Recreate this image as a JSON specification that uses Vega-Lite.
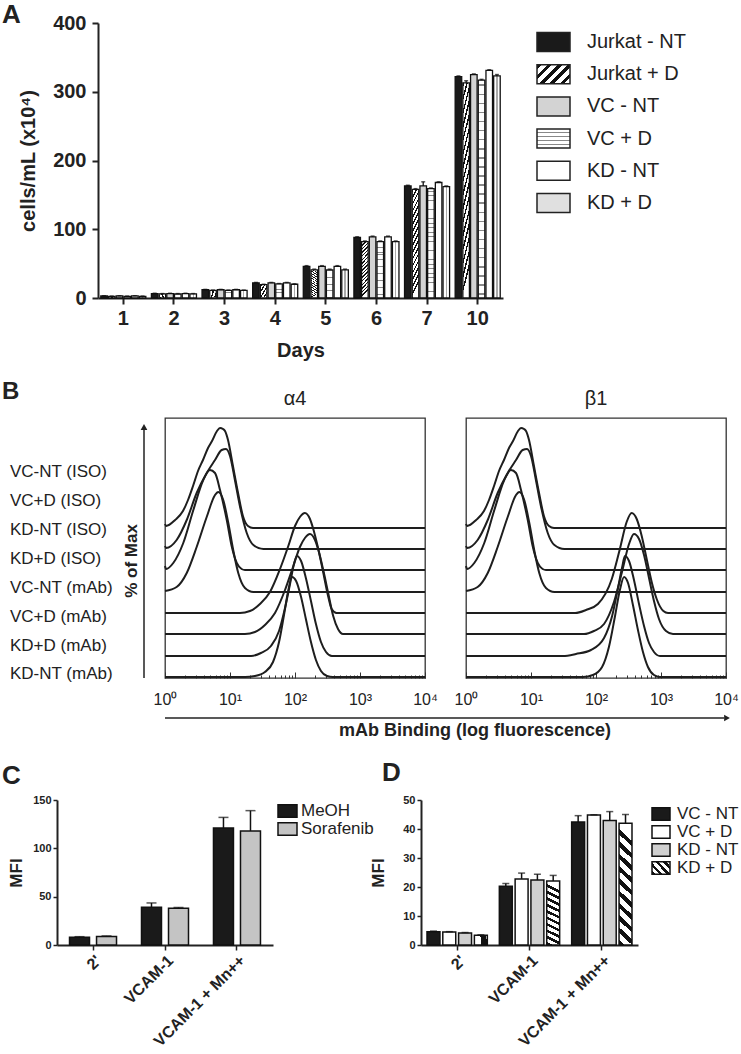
{
"$schema": "https://vega.github.io/schema/vega-lite/v6.json",
"padding": {"left": 2, "top": 2, "right": 0, "bottom": 0},
"background": "white",
"config": {"font": "Liberation Sans", "view": {"stroke": null}, "axis": {"labelColor": "#222", "titleColor": "#222", "domainColor": "#222", "tickColor": "#222", "grid": false}, "title": {"color": "#222"}, "text": {"color": "#222"}},
"datasets": {
"growth": [
{"day":"1","g":"Jurkat - NT","val":3,"hi":3.3},{"day":"1","g":"Jurkat + D","val":2.5,"hi":2.8},{"day":"1","g":"VC - NT","val":3,"hi":3.3},{"day":"1","g":"VC + D","val":2.5,"hi":2.8},{"day":"1","g":"KD - NT","val":3,"hi":3.3},{"day":"1","g":"KD + D","val":2.5,"hi":2.8},
{"day":"2","g":"Jurkat - NT","val":6.5,"hi":6.9},{"day":"2","g":"Jurkat + D","val":6,"hi":6.4},{"day":"2","g":"VC - NT","val":6.5,"hi":6.9},{"day":"2","g":"VC + D","val":6,"hi":6.4},{"day":"2","g":"KD - NT","val":6.5,"hi":6.9},{"day":"2","g":"KD + D","val":6,"hi":6.4},
{"day":"3","g":"Jurkat - NT","val":12,"hi":12.5},{"day":"3","g":"Jurkat + D","val":11,"hi":11.5},{"day":"3","g":"VC - NT","val":12,"hi":12.5},{"day":"3","g":"VC + D","val":11,"hi":11.5},{"day":"3","g":"KD - NT","val":12,"hi":12.5},{"day":"3","g":"KD + D","val":11,"hi":11.5},
{"day":"4","g":"Jurkat - NT","val":22,"hi":22.6},{"day":"4","g":"Jurkat + D","val":19.5,"hi":20},{"day":"4","g":"VC - NT","val":22,"hi":22.6},{"day":"4","g":"VC + D","val":20.5,"hi":21},{"day":"4","g":"KD - NT","val":22,"hi":22.6},{"day":"4","g":"KD + D","val":20,"hi":20.6},
{"day":"5","g":"Jurkat - NT","val":46,"hi":47},{"day":"5","g":"Jurkat + D","val":41,"hi":42},{"day":"5","g":"VC - NT","val":46,"hi":47},{"day":"5","g":"VC + D","val":41,"hi":42},{"day":"5","g":"KD - NT","val":46,"hi":47},{"day":"5","g":"KD + D","val":41,"hi":42},
{"day":"6","g":"Jurkat - NT","val":88,"hi":89},{"day":"6","g":"Jurkat + D","val":82,"hi":83},{"day":"6","g":"VC - NT","val":89,"hi":90},{"day":"6","g":"VC + D","val":82,"hi":83},{"day":"6","g":"KD - NT","val":89,"hi":90},{"day":"6","g":"KD + D","val":82,"hi":83},
{"day":"7","g":"Jurkat - NT","val":163,"hi":164},{"day":"7","g":"Jurkat + D","val":158,"hi":159},{"day":"7","g":"VC - NT","val":163,"hi":169},{"day":"7","g":"VC + D","val":159,"hi":160},{"day":"7","g":"KD - NT","val":168,"hi":169},{"day":"7","g":"KD + D","val":162,"hi":163},
{"day":"10","g":"Jurkat - NT","val":322,"hi":323},{"day":"10","g":"Jurkat + D","val":313,"hi":316},{"day":"10","g":"VC - NT","val":325,"hi":326},{"day":"10","g":"VC + D","val":317,"hi":318},{"day":"10","g":"KD - NT","val":331,"hi":332},{"day":"10","g":"KD + D","val":323,"hi":325}
],
"legA": [{"g":"Jurkat - NT"},{"g":"Jurkat + D"},{"g":"VC - NT"},{"g":"VC + D"},{"g":"KD - NT"},{"g":"KD + D"}],
"labB": [{"s":"VC-NT (ISO)"},{"s":"VC+D (ISO)"},{"s":"KD-NT (ISO)"},{"s":"KD+D (ISO)"},{"s":"VC-NT (mAb)"},{"s":"VC+D (mAb)"},{"s":"KD+D (mAb)"},{"s":"KD-NT (mAb)"}],
"hist": [
{"c":"VC-NT (ISO)","p":"iso","v":1,"h":4},{"c":"VC-NT (ISO)","p":"iso","v":1.04,"h":2},{"c":"VC-NT (ISO)","p":"iso","v":1.43,"h":8},{"c":"VC-NT (ISO)","p":"iso","v":1.89,"h":17},{"c":"VC-NT (ISO)","p":"iso","v":2.26,"h":28},{"c":"VC-NT (ISO)","p":"iso","v":2.7,"h":42},{"c":"VC-NT (ISO)","p":"iso","v":3.22,"h":57},{"c":"VC-NT (ISO)","p":"iso","v":3.84,"h":68},{"c":"VC-NT (ISO)","p":"iso","v":4.59,"h":80},{"c":"VC-NT (ISO)","p":"iso","v":5.29,"h":87},{"c":"VC-NT (ISO)","p":"iso","v":6.31,"h":97},{"c":"VC-NT (ISO)","p":"iso","v":7.02,"h":100},{"c":"VC-NT (ISO)","p":"iso","v":7.8,"h":99},{"c":"VC-NT (ISO)","p":"iso","v":8.38,"h":97},{"c":"VC-NT (ISO)","p":"iso","v":9.32,"h":88},{"c":"VC-NT (ISO)","p":"iso","v":11.1,"h":62},{"c":"VC-NT (ISO)","p":"iso","v":13.3,"h":35},{"c":"VC-NT (ISO)","p":"iso","v":15.8,"h":12},{"c":"VC-NT (ISO)","p":"iso","v":18.9,"h":2},{"c":"VC-NT (ISO)","p":"iso","v":22.6,"h":0},{"c":"VC-NT (ISO)","p":"iso","v":10000,"h":0},
{"c":"VC+D (ISO)","p":"iso","v":1,"h":3},{"c":"VC+D (ISO)","p":"iso","v":1.04,"h":1},{"c":"VC+D (ISO)","p":"iso","v":1.51,"h":9},{"c":"VC+D (ISO)","p":"iso","v":2.16,"h":29},{"c":"VC+D (ISO)","p":"iso","v":3.07,"h":56},{"c":"VC+D (ISO)","p":"iso","v":4.38,"h":76},{"c":"VC+D (ISO)","p":"iso","v":5.88,"h":89},{"c":"VC+D (ISO)","p":"iso","v":7.45,"h":99},{"c":"VC+D (ISO)","p":"iso","v":8.69,"h":100},{"c":"VC+D (ISO)","p":"iso","v":10,"h":93},{"c":"VC+D (ISO)","p":"iso","v":11.9,"h":69},{"c":"VC+D (ISO)","p":"iso","v":14.2,"h":43},{"c":"VC+D (ISO)","p":"iso","v":18.1,"h":16},{"c":"VC+D (ISO)","p":"iso","v":22.9,"h":4},{"c":"VC+D (ISO)","p":"iso","v":32.6,"h":0},{"c":"VC+D (ISO)","p":"iso","v":10000,"h":0},
{"c":"KD-NT (ISO)","p":"iso","v":1,"h":4},{"c":"KD-NT (ISO)","p":"iso","v":1.04,"h":1},{"c":"KD-NT (ISO)","p":"iso","v":1.34,"h":7},{"c":"KD-NT (ISO)","p":"iso","v":1.91,"h":27},{"c":"KD-NT (ISO)","p":"iso","v":2.73,"h":60},{"c":"KD-NT (ISO)","p":"iso","v":3.88,"h":90},{"c":"KD-NT (ISO)","p":"iso","v":4.92,"h":100},{"c":"KD-NT (ISO)","p":"iso","v":5.88,"h":97},{"c":"KD-NT (ISO)","p":"iso","v":7.02,"h":80},{"c":"KD-NT (ISO)","p":"iso","v":8.92,"h":50},{"c":"KD-NT (ISO)","p":"iso","v":10.6,"h":24},{"c":"KD-NT (ISO)","p":"iso","v":12.7,"h":7},{"c":"KD-NT (ISO)","p":"iso","v":15.1,"h":1},{"c":"KD-NT (ISO)","p":"iso","v":17,"h":0},{"c":"KD-NT (ISO)","p":"iso","v":10000,"h":0},
{"c":"KD+D (ISO)","p":"iso","v":1,"h":1},{"c":"KD+D (ISO)","p":"iso","v":1.51,"h":5},{"c":"KD+D (ISO)","p":"iso","v":2.16,"h":19},{"c":"KD+D (ISO)","p":"iso","v":3.07,"h":45},{"c":"KD+D (ISO)","p":"iso","v":4.38,"h":75},{"c":"KD+D (ISO)","p":"iso","v":5.88,"h":97},{"c":"KD+D (ISO)","p":"iso","v":6.6,"h":100},{"c":"KD+D (ISO)","p":"iso","v":7.87,"h":92},{"c":"KD+D (ISO)","p":"iso","v":9.42,"h":69},{"c":"KD+D (ISO)","p":"iso","v":11.2,"h":42},{"c":"KD+D (ISO)","p":"iso","v":13.4,"h":19},{"c":"KD+D (ISO)","p":"iso","v":17,"h":4},{"c":"KD+D (ISO)","p":"iso","v":22.9,"h":0},{"c":"KD+D (ISO)","p":"iso","v":10000,"h":0},
{"c":"VC-NT (mAb)","p":"a4","v":1,"h":0},{"c":"VC-NT (mAb)","p":"a4","v":14.2,"h":0},{"c":"VC-NT (mAb)","p":"a4","v":20.3,"h":2},{"c":"VC-NT (mAb)","p":"a4","v":28.9,"h":9},{"c":"VC-NT (mAb)","p":"a4","v":41.2,"h":21},{"c":"VC-NT (mAb)","p":"a4","v":58.8,"h":44},{"c":"VC-NT (mAb)","p":"a4","v":78.9,"h":67},{"c":"VC-NT (mAb)","p":"a4","v":100,"h":87},{"c":"VC-NT (mAb)","p":"a4","v":119,"h":96},{"c":"VC-NT (mAb)","p":"a4","v":142,"h":100},{"c":"VC-NT (mAb)","p":"a4","v":170,"h":94},{"c":"VC-NT (mAb)","p":"a4","v":191,"h":84},{"c":"VC-NT (mAb)","p":"a4","v":228,"h":64},{"c":"VC-NT (mAb)","p":"a4","v":271,"h":41},{"c":"VC-NT (mAb)","p":"a4","v":323,"h":17},{"c":"VC-NT (mAb)","p":"a4","v":366,"h":4},{"c":"VC-NT (mAb)","p":"a4","v":436,"h":0},{"c":"VC-NT (mAb)","p":"a4","v":10000,"h":0},
{"c":"VC+D (mAb)","p":"a4","v":1,"h":0},{"c":"VC+D (mAb)","p":"a4","v":17,"h":0},{"c":"VC+D (mAb)","p":"a4","v":24.2,"h":2},{"c":"VC+D (mAb)","p":"a4","v":34.5,"h":9},{"c":"VC+D (mAb)","p":"a4","v":49.2,"h":21},{"c":"VC+D (mAb)","p":"a4","v":70.2,"h":44},{"c":"VC+D (mAb)","p":"a4","v":93.2,"h":67},{"c":"VC+D (mAb)","p":"a4","v":119,"h":87},{"c":"VC+D (mAb)","p":"a4","v":142,"h":96},{"c":"VC+D (mAb)","p":"a4","v":170,"h":100},{"c":"VC+D (mAb)","p":"a4","v":203,"h":94},{"c":"VC+D (mAb)","p":"a4","v":229,"h":84},{"c":"VC+D (mAb)","p":"a4","v":272,"h":64},{"c":"VC+D (mAb)","p":"a4","v":324,"h":41},{"c":"VC+D (mAb)","p":"a4","v":387,"h":18},{"c":"VC+D (mAb)","p":"a4","v":459,"h":5},{"c":"VC+D (mAb)","p":"a4","v":548,"h":0},{"c":"VC+D (mAb)","p":"a4","v":10000,"h":0},
{"c":"KD+D (mAb)","p":"a4","v":1,"h":0},{"c":"KD+D (mAb)","p":"a4","v":21.1,"h":0},{"c":"KD+D (mAb)","p":"a4","v":29.9,"h":3},{"c":"KD+D (mAb)","p":"a4","v":42.7,"h":10},{"c":"KD+D (mAb)","p":"a4","v":56.8,"h":25},{"c":"KD+D (mAb)","p":"a4","v":70.2,"h":48},{"c":"KD+D (mAb)","p":"a4","v":83.8,"h":72},{"c":"KD+D (mAb)","p":"a4","v":96.5,"h":92},{"c":"KD+D (mAb)","p":"a4","v":107,"h":100},{"c":"KD+D (mAb)","p":"a4","v":124,"h":95},{"c":"KD+D (mAb)","p":"a4","v":147,"h":78},{"c":"KD+D (mAb)","p":"a4","v":176,"h":55},{"c":"KD+D (mAb)","p":"a4","v":210,"h":32},{"c":"KD+D (mAb)","p":"a4","v":251,"h":14},{"c":"KD+D (mAb)","p":"a4","v":300,"h":4},{"c":"KD+D (mAb)","p":"a4","v":370,"h":0},{"c":"KD+D (mAb)","p":"a4","v":10000,"h":0},
{"c":"KD-NT (mAb)","p":"a4","v":1,"h":0},{"c":"KD-NT (mAb)","p":"a4","v":17,"h":0},{"c":"KD-NT (mAb)","p":"a4","v":24.2,"h":1},{"c":"KD-NT (mAb)","p":"a4","v":34.5,"h":5},{"c":"KD-NT (mAb)","p":"a4","v":45.9,"h":15},{"c":"KD-NT (mAb)","p":"a4","v":56.8,"h":35},{"c":"KD-NT (mAb)","p":"a4","v":67.7,"h":62},{"c":"KD-NT (mAb)","p":"a4","v":78,"h":85},{"c":"KD-NT (mAb)","p":"a4","v":89.8,"h":100},{"c":"KD-NT (mAb)","p":"a4","v":104,"h":96},{"c":"KD-NT (mAb)","p":"a4","v":124,"h":80},{"c":"KD-NT (mAb)","p":"a4","v":147,"h":58},{"c":"KD-NT (mAb)","p":"a4","v":176,"h":35},{"c":"KD-NT (mAb)","p":"a4","v":210,"h":17},{"c":"KD-NT (mAb)","p":"a4","v":251,"h":6},{"c":"KD-NT (mAb)","p":"a4","v":311,"h":1},{"c":"KD-NT (mAb)","p":"a4","v":383,"h":0},{"c":"KD-NT (mAb)","p":"a4","v":10000,"h":0},
{"c":"VC-NT (mAb)","p":"b1","v":1,"h":0},{"c":"VC-NT (mAb)","p":"b1","v":47.7,"h":0},{"c":"VC-NT (mAb)","p":"b1","v":70.2,"h":3},{"c":"VC-NT (mAb)","p":"b1","v":107,"h":9},{"c":"VC-NT (mAb)","p":"b1","v":175,"h":34},{"c":"VC-NT (mAb)","p":"b1","v":233,"h":64},{"c":"VC-NT (mAb)","p":"b1","v":296,"h":91},{"c":"VC-NT (mAb)","p":"b1","v":354,"h":100},{"c":"VC-NT (mAb)","p":"b1","v":423,"h":94},{"c":"VC-NT (mAb)","p":"b1","v":505,"h":77},{"c":"VC-NT (mAb)","p":"b1","v":602,"h":54},{"c":"VC-NT (mAb)","p":"b1","v":719,"h":31},{"c":"VC-NT (mAb)","p":"b1","v":858,"h":14},{"c":"VC-NT (mAb)","p":"b1","v":1087,"h":2},{"c":"VC-NT (mAb)","p":"b1","v":1283,"h":0},{"c":"VC-NT (mAb)","p":"b1","v":10000,"h":0},
{"c":"VC+D (mAb)","p":"b1","v":1,"h":0},{"c":"VC+D (mAb)","p":"b1","v":65.4,"h":0},{"c":"VC+D (mAb)","p":"b1","v":93,"h":3},{"c":"VC+D (mAb)","p":"b1","v":133,"h":10},{"c":"VC+D (mAb)","p":"b1","v":189,"h":32},{"c":"VC+D (mAb)","p":"b1","v":251,"h":62},{"c":"VC+D (mAb)","p":"b1","v":322,"h":90},{"c":"VC+D (mAb)","p":"b1","v":384,"h":100},{"c":"VC+D (mAb)","p":"b1","v":459,"h":95},{"c":"VC+D (mAb)","p":"b1","v":548,"h":79},{"c":"VC+D (mAb)","p":"b1","v":654,"h":56},{"c":"VC+D (mAb)","p":"b1","v":780,"h":33},{"c":"VC+D (mAb)","p":"b1","v":931,"h":15},{"c":"VC+D (mAb)","p":"b1","v":1194,"h":3},{"c":"VC+D (mAb)","p":"b1","v":1529,"h":0},{"c":"VC+D (mAb)","p":"b1","v":10000,"h":0},
{"c":"KD+D (mAb)","p":"b1","v":1,"h":0},{"c":"KD+D (mAb)","p":"b1","v":31,"h":0},{"c":"KD+D (mAb)","p":"b1","v":49.2,"h":2},{"c":"KD+D (mAb)","p":"b1","v":83.8,"h":6},{"c":"KD+D (mAb)","p":"b1","v":133,"h":18},{"c":"KD+D (mAb)","p":"b1","v":177,"h":40},{"c":"KD+D (mAb)","p":"b1","v":218,"h":68},{"c":"KD+D (mAb)","p":"b1","v":251,"h":88},{"c":"KD+D (mAb)","p":"b1","v":279,"h":100},{"c":"KD+D (mAb)","p":"b1","v":322,"h":95},{"c":"KD+D (mAb)","p":"b1","v":384,"h":76},{"c":"KD+D (mAb)","p":"b1","v":459,"h":52},{"c":"KD+D (mAb)","p":"b1","v":548,"h":30},{"c":"KD+D (mAb)","p":"b1","v":654,"h":13},{"c":"KD+D (mAb)","p":"b1","v":780,"h":4},{"c":"KD+D (mAb)","p":"b1","v":964,"h":0},{"c":"KD+D (mAb)","p":"b1","v":10000,"h":0},
{"c":"KD-NT (mAb)","p":"b1","v":1,"h":0},{"c":"KD-NT (mAb)","p":"b1","v":63,"h":0},{"c":"KD-NT (mAb)","p":"b1","v":89.8,"h":2},{"c":"KD-NT (mAb)","p":"b1","v":124,"h":10},{"c":"KD-NT (mAb)","p":"b1","v":158,"h":30},{"c":"KD-NT (mAb)","p":"b1","v":195,"h":60},{"c":"KD-NT (mAb)","p":"b1","v":233,"h":87},{"c":"KD-NT (mAb)","p":"b1","v":270,"h":100},{"c":"KD-NT (mAb)","p":"b1","v":311,"h":94},{"c":"KD-NT (mAb)","p":"b1","v":370,"h":72},{"c":"KD-NT (mAb)","p":"b1","v":442,"h":47},{"c":"KD-NT (mAb)","p":"b1","v":528,"h":25},{"c":"KD-NT (mAb)","p":"b1","v":630,"h":10},{"c":"KD-NT (mAb)","p":"b1","v":780,"h":2},{"c":"KD-NT (mAb)","p":"b1","v":964,"h":0},{"c":"KD-NT (mAb)","p":"b1","v":10000,"h":0}
],
"cdat": [{"cond":"2'","g":"MeOH","val":8,"hi":8.6},{"cond":"2'","g":"Sorafenib","val":8.8,"hi":9.4},{"cond":"VCAM-1","g":"MeOH","val":39,"hi":43.5},{"cond":"VCAM-1","g":"Sorafenib","val":38,"hi":38.8},{"cond":"VCAM-1 + Mn++","g":"MeOH","val":121,"hi":132},{"cond":"VCAM-1 + Mn++","g":"Sorafenib","val":118,"hi":139}],
"legC": [{"g":"MeOH"},{"g":"Sorafenib"}],
"ddat": [{"cond":"2'","g":"VC - NT","val":4.6,"hi":4.8},{"cond":"2'","g":"VC + D","val":4.5,"hi":4.6},{"cond":"2'","g":"KD - NT","val":4.1,"hi":4.3},{"cond":"2'","g":"KD + D","val":3.4,"hi":3.5},
{"cond":"VCAM-1","g":"VC - NT","val":20.3,"hi":21.2},{"cond":"VCAM-1","g":"VC + D","val":22.8,"hi":24.8},{"cond":"VCAM-1","g":"KD - NT","val":22.4,"hi":24.4},{"cond":"VCAM-1","g":"KD + D","val":22.1,"hi":24},
{"cond":"VCAM-1 + Mn++","g":"VC - NT","val":42.4,"hi":44.6},{"cond":"VCAM-1 + Mn++","g":"VC + D","val":44.8,"hi":44.9},{"cond":"VCAM-1 + Mn++","g":"KD - NT","val":42.9,"hi":46},{"cond":"VCAM-1 + Mn++","g":"KD + D","val":42,"hi":45}],
"legD": [{"g":"VC - NT"},{"g":"VC + D"},{"g":"KD - NT"},{"g":"KD + D"}]
},
"spacing": 20,
"resolve": {"scale": {"fill": "independent", "xOffset": "independent"}},
"vconcat": [
{"hconcat": [
 {"width": 62, "height": 275,
  "data": {"values": [{"t": "A"}]},
  "mark": {"type": "text", "align": "left", "baseline": "middle", "fontSize": 26, "fontWeight": "bold", "color": "#222"},
  "encoding": {"x": {"datum": 0, "type": "quantitative", "scale": {"domain": [0, 62], "nice": false, "zero": false}, "axis": null}, "y": {"datum": 283, "type": "quantitative", "scale": {"domain": [0, 275], "nice": false, "zero": false}, "axis": null}, "text": {"field": "t"}}
 },
 {"width": 405, "height": 275,
  "data": {"name": "growth"},
  "encoding": {
   "x": {"field": "day", "type": "ordinal", "sort": ["1","2","3","4","5","6","7","10"], "scale": {"paddingInner": 0.11, "paddingOuter": 0.055}, "axis": {"title": "Days", "labelAngle": 0, "labelFontSize": 20, "labelFontWeight": "bold", "titleFontSize": 20, "titleFontWeight": "bold", "tickSize": 6, "tickWidth": 2, "domainWidth": 2, "labelPadding": 4, "titlePadding": 12}},
   "xOffset": {"field": "g", "type": "nominal", "sort": ["Jurkat - NT","Jurkat + D","VC - NT","VC + D","KD - NT","KD + D"], "scale": {"domain": ["Jurkat - NT","Jurkat + D","VC - NT","VC + D","KD - NT","KD + D"], "paddingInner": 0.15}},
   "y": {"field": "val", "type": "quantitative", "scale": {"domain": [0, 400], "nice": false}, "axis": {"title": "cells/mL (x10⁴)", "values": [0,100,200,300,400], "labelFontSize": 20, "labelFontWeight": "bold", "titleFontSize": 20, "titleFontWeight": "bold", "tickSize": 6, "tickWidth": 2, "domainWidth": 2, "labelPadding": 6, "titlePadding": 14}}
  },
  "layer": [
   {"transform": [{"filter": {"field": "g", "oneOf": ["Jurkat - NT","VC - NT","KD - NT"]}}], "mark": {"type": "bar", "stroke": "#111", "strokeWidth": 1.3}, "encoding": {"fill": {"field": "g", "type": "nominal", "scale": {"domain": ["Jurkat - NT","VC - NT","KD - NT"], "range": ["#1a1a1a","#d3d3d3","#ffffff"]}, "legend": null}}},
   {"transform": [{"filter": "datum.g == 'Jurkat + D'"}], "mark": {"type": "bar", "stroke": "#111", "strokeWidth": 1.3, "fill": {"gradient": "linear", "x1": 0, "y1": 0, "x2": 0.12, "y2": 1, "stops": [
{"offset":0,"color":"#111"},{"offset":0.025,"color":"#111"},{"offset":0.025,"color":"#fff"},{"offset":0.0625,"color":"#fff"},
{"offset":0.0625,"color":"#111"},{"offset":0.0875,"color":"#111"},{"offset":0.0875,"color":"#fff"},{"offset":0.125,"color":"#fff"},
{"offset":0.125,"color":"#111"},{"offset":0.15,"color":"#111"},{"offset":0.15,"color":"#fff"},{"offset":0.1875,"color":"#fff"},
{"offset":0.1875,"color":"#111"},{"offset":0.2125,"color":"#111"},{"offset":0.2125,"color":"#fff"},{"offset":0.25,"color":"#fff"},
{"offset":0.25,"color":"#111"},{"offset":0.275,"color":"#111"},{"offset":0.275,"color":"#fff"},{"offset":0.3125,"color":"#fff"},
{"offset":0.3125,"color":"#111"},{"offset":0.3375,"color":"#111"},{"offset":0.3375,"color":"#fff"},{"offset":0.375,"color":"#fff"},
{"offset":0.375,"color":"#111"},{"offset":0.4,"color":"#111"},{"offset":0.4,"color":"#fff"},{"offset":0.4375,"color":"#fff"},
{"offset":0.4375,"color":"#111"},{"offset":0.4625,"color":"#111"},{"offset":0.4625,"color":"#fff"},{"offset":0.5,"color":"#fff"},
{"offset":0.5,"color":"#111"},{"offset":0.525,"color":"#111"},{"offset":0.525,"color":"#fff"},{"offset":0.5625,"color":"#fff"},
{"offset":0.5625,"color":"#111"},{"offset":0.5875,"color":"#111"},{"offset":0.5875,"color":"#fff"},{"offset":0.625,"color":"#fff"},
{"offset":0.625,"color":"#111"},{"offset":0.65,"color":"#111"},{"offset":0.65,"color":"#fff"},{"offset":0.6875,"color":"#fff"},
{"offset":0.6875,"color":"#111"},{"offset":0.7125,"color":"#111"},{"offset":0.7125,"color":"#fff"},{"offset":0.75,"color":"#fff"},
{"offset":0.75,"color":"#111"},{"offset":0.775,"color":"#111"},{"offset":0.775,"color":"#fff"},{"offset":0.8125,"color":"#fff"},
{"offset":0.8125,"color":"#111"},{"offset":0.8375,"color":"#111"},{"offset":0.8375,"color":"#fff"},{"offset":0.875,"color":"#fff"},
{"offset":0.875,"color":"#111"},{"offset":0.9,"color":"#111"},{"offset":0.9,"color":"#fff"},{"offset":0.9375,"color":"#fff"},
{"offset":0.9375,"color":"#111"},{"offset":0.9625,"color":"#111"},{"offset":0.9625,"color":"#fff"},{"offset":1,"color":"#fff"}]}}},
   {"transform": [{"filter": "datum.g == 'VC + D'"}], "mark": {"type": "bar", "stroke": "#111", "strokeWidth": 1.3, "fill": {"gradient": "linear", "x1": 0, "y1": 0, "x2": 0, "y2": 1, "stops": [
{"offset":0,"color":"#fff"},
{"offset":0.02,"color":"#fff"},{"offset":0.02,"color":"#888"},{"offset":0.027,"color":"#888"},{"offset":0.027,"color":"#fff"},
{"offset":0.0617,"color":"#fff"},{"offset":0.0617,"color":"#888"},{"offset":0.0687,"color":"#888"},{"offset":0.0687,"color":"#fff"},
{"offset":0.1033,"color":"#fff"},{"offset":0.1033,"color":"#888"},{"offset":0.1103,"color":"#888"},{"offset":0.1103,"color":"#fff"},
{"offset":0.145,"color":"#fff"},{"offset":0.145,"color":"#888"},{"offset":0.152,"color":"#888"},{"offset":0.152,"color":"#fff"},
{"offset":0.1867,"color":"#fff"},{"offset":0.1867,"color":"#888"},{"offset":0.1937,"color":"#888"},{"offset":0.1937,"color":"#fff"},
{"offset":0.2283,"color":"#fff"},{"offset":0.2283,"color":"#888"},{"offset":0.2353,"color":"#888"},{"offset":0.2353,"color":"#fff"},
{"offset":0.27,"color":"#fff"},{"offset":0.27,"color":"#888"},{"offset":0.277,"color":"#888"},{"offset":0.277,"color":"#fff"},
{"offset":0.3117,"color":"#fff"},{"offset":0.3117,"color":"#888"},{"offset":0.3187,"color":"#888"},{"offset":0.3187,"color":"#fff"},
{"offset":0.3533,"color":"#fff"},{"offset":0.3533,"color":"#888"},{"offset":0.3603,"color":"#888"},{"offset":0.3603,"color":"#fff"},
{"offset":0.395,"color":"#fff"},{"offset":0.395,"color":"#888"},{"offset":0.402,"color":"#888"},{"offset":0.402,"color":"#fff"},
{"offset":0.4367,"color":"#fff"},{"offset":0.4367,"color":"#888"},{"offset":0.4437,"color":"#888"},{"offset":0.4437,"color":"#fff"},
{"offset":0.4783,"color":"#fff"},{"offset":0.4783,"color":"#888"},{"offset":0.4853,"color":"#888"},{"offset":0.4853,"color":"#fff"},
{"offset":0.52,"color":"#fff"},{"offset":0.52,"color":"#888"},{"offset":0.527,"color":"#888"},{"offset":0.527,"color":"#fff"},
{"offset":0.5617,"color":"#fff"},{"offset":0.5617,"color":"#888"},{"offset":0.5687,"color":"#888"},{"offset":0.5687,"color":"#fff"},
{"offset":0.6033,"color":"#fff"},{"offset":0.6033,"color":"#888"},{"offset":0.6103,"color":"#888"},{"offset":0.6103,"color":"#fff"},
{"offset":0.645,"color":"#fff"},{"offset":0.645,"color":"#888"},{"offset":0.652,"color":"#888"},{"offset":0.652,"color":"#fff"},
{"offset":0.6867,"color":"#fff"},{"offset":0.6867,"color":"#888"},{"offset":0.6937,"color":"#888"},{"offset":0.6937,"color":"#fff"},
{"offset":0.7283,"color":"#fff"},{"offset":0.7283,"color":"#888"},{"offset":0.7353,"color":"#888"},{"offset":0.7353,"color":"#fff"},
{"offset":0.77,"color":"#fff"},{"offset":0.77,"color":"#888"},{"offset":0.777,"color":"#888"},{"offset":0.777,"color":"#fff"},
{"offset":0.8117,"color":"#fff"},{"offset":0.8117,"color":"#888"},{"offset":0.8187,"color":"#888"},{"offset":0.8187,"color":"#fff"},
{"offset":0.8533,"color":"#fff"},{"offset":0.8533,"color":"#888"},{"offset":0.8603,"color":"#888"},{"offset":0.8603,"color":"#fff"},
{"offset":0.895,"color":"#fff"},{"offset":0.895,"color":"#888"},{"offset":0.902,"color":"#888"},{"offset":0.902,"color":"#fff"},
{"offset":0.9367,"color":"#fff"},{"offset":0.9367,"color":"#888"},{"offset":0.9437,"color":"#888"},{"offset":0.9437,"color":"#fff"},
{"offset":0.9783,"color":"#fff"},{"offset":0.9783,"color":"#888"},{"offset":0.9853,"color":"#888"},{"offset":0.9853,"color":"#fff"},
{"offset":1,"color":"#fff"}]}}},
   {"transform": [{"filter": "datum.g == 'KD + D'"}], "mark": {"type": "bar", "stroke": "#111", "strokeWidth": 1.3, "fill": {"gradient": "linear", "x1": 0, "y1": 0, "x2": 1, "y2": 0, "stops": [{"offset":0,"color":"#fff"},{"offset":0.4,"color":"#fff"},{"offset":0.4,"color":"#aaa"},{"offset":0.6,"color":"#aaa"},{"offset":0.6,"color":"#fff"},{"offset":1,"color":"#fff"}]}}},
   {"mark": {"type": "rule", "color": "#111", "strokeWidth": 1.3}, "encoding": {"y2": {"field": "hi"}}},
   {"mark": {"type": "tick", "color": "#111", "thickness": 1.5, "size": 4}, "encoding": {"y": {"field": "hi", "type": "quantitative"}}}
  ]
 },
 {"width": 180, "height": 199,
  "data": {"name": "legA"},
  "encoding": {"y": {"field": "g", "type": "nominal", "sort": null, "scale": {"domain": ["Jurkat - NT","Jurkat + D","VC - NT","VC + D","KD - NT","KD + D"], "paddingInner": 0.41, "paddingOuter": 0.295}, "axis": null}},
  "layer": [
   {"transform": [{"filter": {"field": "g", "oneOf": ["Jurkat - NT","VC - NT","KD - NT"]}}], "mark": {"type": "bar", "stroke": "#222", "strokeWidth": 1.5}, "encoding": {"x": {"datum": 0, "type": "quantitative", "scale": {"domain": [0, 180], "nice": false, "zero": false}, "axis": null}, "x2": {"datum": 33}, "fill": {"field": "g", "type": "nominal", "scale": {"domain": ["Jurkat - NT","VC - NT","KD - NT"], "range": ["#1a1a1a","#d3d3d3","#ffffff"]}, "legend": null}}},
   {"transform": [{"filter": "datum.g == 'Jurkat + D'"}], "mark": {"type": "bar", "stroke": "#222", "strokeWidth": 1.5, "fill": {"gradient": "linear", "x1": 0, "y1": 0, "x2": 1.18, "y2": 0.68, "stops": [{"offset":0,"color":"#111"},{"offset":0.09,"color":"#111"},{"offset":0.09,"color":"#fff"},{"offset":0.2,"color":"#fff"},{"offset":0.2,"color":"#111"},{"offset":0.29,"color":"#111"},{"offset":0.29,"color":"#fff"},{"offset":0.4,"color":"#fff"},{"offset":0.4,"color":"#111"},{"offset":0.49,"color":"#111"},{"offset":0.49,"color":"#fff"},{"offset":0.6,"color":"#fff"},{"offset":0.6,"color":"#111"},{"offset":0.69,"color":"#111"},{"offset":0.69,"color":"#fff"},{"offset":0.8,"color":"#fff"},{"offset":0.8,"color":"#111"},{"offset":0.89,"color":"#111"},{"offset":0.89,"color":"#fff"},{"offset":1,"color":"#fff"}]}}, "encoding": {"x": {"datum": 0, "type": "quantitative", "scale": {"domain": [0, 180], "nice": false, "zero": false}, "axis": null}, "x2": {"datum": 33}}},
   {"transform": [{"filter": "datum.g == 'VC + D'"}], "mark": {"type": "bar", "stroke": "#222", "strokeWidth": 1.5, "fill": {"gradient": "linear", "x1": 0, "y1": 0, "x2": 0, "y2": 1, "stops": [{"offset":0,"color":"#fff"},{"offset":0.17,"color":"#fff"},{"offset":0.17,"color":"#888"},{"offset":0.23,"color":"#888"},{"offset":0.23,"color":"#fff"},{"offset":0.37,"color":"#fff"},{"offset":0.37,"color":"#888"},{"offset":0.43,"color":"#888"},{"offset":0.43,"color":"#fff"},{"offset":0.57,"color":"#fff"},{"offset":0.57,"color":"#888"},{"offset":0.63,"color":"#888"},{"offset":0.63,"color":"#fff"},{"offset":0.77,"color":"#fff"},{"offset":0.77,"color":"#888"},{"offset":0.83,"color":"#888"},{"offset":0.83,"color":"#fff"},{"offset":1,"color":"#fff"}]}}, "encoding": {"x": {"datum": 0, "type": "quantitative", "scale": {"domain": [0, 180], "nice": false, "zero": false}, "axis": null}, "x2": {"datum": 33}}},
   {"transform": [{"filter": "datum.g == 'KD + D'"}], "mark": {"type": "bar", "stroke": "#222", "strokeWidth": 1.5, "fill": "#e0e0e0"}, "encoding": {"x": {"datum": 0, "type": "quantitative", "scale": {"domain": [0, 180], "nice": false, "zero": false}, "axis": null}, "x2": {"datum": 33}}},
   {"mark": {"type": "text", "align": "left", "baseline": "middle", "fontSize": 20, "color": "#222"}, "encoding": {"x": {"datum": 50, "type": "quantitative", "scale": {"domain": [0, 180], "nice": false, "zero": false}, "axis": null}, "text": {"field": "g"}}}
  ]
 }
], "spacing": 34, "bounds": "flush", "resolve": {"scale": {"fill": "independent"}}},
{"hconcat": [
 {"width": 122, "height": 260,
  "title": {"text": "B", "anchor": "start", "frame": "group", "fontSize": 24, "fontWeight": "bold", "offset": 14},
  "layer": [
   {"data": {"name": "labB"}, "mark": {"type": "text", "align": "left", "baseline": "middle", "fontSize": 17, "color": "#222"}, "encoding": {"x": {"datum": 8, "type": "quantitative", "scale": {"domain": [0, 122], "nice": false, "zero": false}, "axis": null}, "y": {"field": "s", "type": "ordinal", "sort": null, "scale": {"type": "point", "padding": 2.65, "align": 0.9375}, "axis": null}, "text": {"field": "s"}}},
   {"data": {"values": [{"t": "% of Max"}]},
    "layer": [
     {"mark": {"type": "rule", "color": "#222", "strokeWidth": 1.5}, "encoding": {"x": {"datum": 142, "type": "quantitative", "scale": {"domain": [0, 122], "nice": false, "zero": false}, "axis": null}, "y": {"datum": 0, "type": "quantitative", "scale": {"domain": [0, 260], "nice": false, "zero": false}, "axis": null}, "y2": {"datum": 248}}},
     {"mark": {"type": "point", "shape": "triangle-up", "size": 45, "filled": true, "color": "#222", "opacity": 1}, "encoding": {"x": {"datum": 142, "type": "quantitative", "scale": {"domain": [0, 122], "nice": false, "zero": false}, "axis": null}, "y": {"datum": 251, "type": "quantitative", "scale": {"domain": [0, 260], "nice": false, "zero": false}, "axis": null}}},
     {"mark": {"type": "text", "angle": 270, "align": "center", "baseline": "middle", "fontSize": 17, "fontWeight": "bold", "color": "#222"}, "encoding": {"x": {"datum": 130, "type": "quantitative", "scale": {"domain": [0, 122], "nice": false, "zero": false}, "axis": null}, "y": {"datum": 117, "type": "quantitative", "scale": {"domain": [0, 260], "nice": false, "zero": false}, "axis": null}, "text": {"field": "t"}}}
    ]},
   {"data": {"values": [{"t": "mAb Binding (log fluorescence)"}]},
    "layer": [
     {"mark": {"type": "rule", "color": "#222", "strokeWidth": 1.5}, "encoding": {"x": {"datum": 163, "type": "quantitative", "scale": {"domain": [0, 122], "nice": false, "zero": false}, "axis": null}, "x2": {"datum": 722}, "y": {"datum": -40, "type": "quantitative", "scale": {"domain": [0, 260], "nice": false, "zero": false}, "axis": null}}},
     {"mark": {"type": "point", "shape": "triangle-right", "size": 45, "filled": true, "color": "#222", "opacity": 1}, "encoding": {"x": {"datum": 725, "type": "quantitative", "scale": {"domain": [0, 122], "nice": false, "zero": false}, "axis": null}, "y": {"datum": -40, "type": "quantitative", "scale": {"domain": [0, 260], "nice": false, "zero": false}, "axis": null}}},
     {"mark": {"type": "text", "align": "center", "baseline": "middle", "fontSize": 18, "fontWeight": "bold", "color": "#222"}, "encoding": {"x": {"datum": 473, "type": "quantitative", "scale": {"domain": [0, 122], "nice": false, "zero": false}, "axis": null}, "y": {"datum": -53, "type": "quantitative", "scale": {"domain": [0, 260], "nice": false, "zero": false}, "axis": null}, "text": {"field": "t"}}}
    ]}
  ],
  "resolve": {"scale": {"y": "independent"}}
 },
 {"width": 260, "height": 260,
  "view": {"stroke": "#333", "strokeWidth": 1.3},
  "title": {"text": "α4", "fontSize": 20, "fontWeight": "normal", "offset": 9},
  "data": {"name": "hist"},
  "transform": [{"filter": "datum.p == 'iso' || datum.p == 'a4'"}],
  "encoding": {"x": {"field": "v", "type": "quantitative", "scale": {"type": "log", "domain": [1, 10000], "nice": false}, "axis": {"title": null, "values": [1,2,3,4,5,6,7,8,9,10,20,30,40,50,60,70,80,90,100,200,300,400,500,600,700,800,900,1000,2000,3000,4000,5000,6000,7000,8000,9000,10000], "labelExpr": "datum.value == 1 ? '10⁰' : datum.value == 10 ? '10¹' : datum.value == 100 ? '10²' : datum.value == 1000 ? '10³' : datum.value == 10000 ? '10⁴' : ''", "labelFontSize": 16, "labelPadding": 19, "labelFlush": false, "labelOverlap": false, "labelBound": false, "domain": false, "tickColor": "#333", "tickWidth": 1, "tickSize": {"condition": {"test": "indexof([1,10,100,1000,10000], datum.value) >= 0", "value": -6}, "value": -3}}}},
  "layer": [
   {"transform": [{"filter": "datum.c == 'VC-NT (ISO)'"}], "mark": {"type": "line", "color": "#1e1e1e", "strokeWidth": 2, "interpolate": "monotone"}, "encoding": {"y": {"field": "h", "type": "quantitative", "scale": {"domain": [-150, 110], "nice": false, "zero": false}, "axis": null}}},
   {"transform": [{"filter": "datum.c == 'VC+D (ISO)'"}], "mark": {"type": "line", "color": "#1e1e1e", "strokeWidth": 2, "interpolate": "monotone"}, "encoding": {"y": {"field": "h", "type": "quantitative", "scale": {"domain": [-129, 131], "nice": false, "zero": false}, "axis": null}}},
   {"transform": [{"filter": "datum.c == 'KD-NT (ISO)'"}], "mark": {"type": "line", "color": "#1e1e1e", "strokeWidth": 2, "interpolate": "monotone"}, "encoding": {"y": {"field": "h", "type": "quantitative", "scale": {"domain": [-108, 152], "nice": false, "zero": false}, "axis": null}}},
   {"transform": [{"filter": "datum.c == 'KD+D (ISO)'"}], "mark": {"type": "line", "color": "#1e1e1e", "strokeWidth": 2, "interpolate": "monotone"}, "encoding": {"y": {"field": "h", "type": "quantitative", "scale": {"domain": [-86, 174], "nice": false, "zero": false}, "axis": null}}},
   {"transform": [{"filter": "datum.c == 'VC-NT (mAb)'"}], "mark": {"type": "line", "color": "#1e1e1e", "strokeWidth": 2, "interpolate": "monotone"}, "encoding": {"y": {"field": "h", "type": "quantitative", "scale": {"domain": [-65, 195], "nice": false, "zero": false}, "axis": null}}},
   {"transform": [{"filter": "datum.c == 'VC+D (mAb)'"}], "mark": {"type": "line", "color": "#1e1e1e", "strokeWidth": 2, "interpolate": "monotone"}, "encoding": {"y": {"field": "h", "type": "quantitative", "scale": {"domain": [-44, 216], "nice": false, "zero": false}, "axis": null}}},
   {"transform": [{"filter": "datum.c == 'KD+D (mAb)'"}], "mark": {"type": "line", "color": "#1e1e1e", "strokeWidth": 2, "interpolate": "monotone"}, "encoding": {"y": {"field": "h", "type": "quantitative", "scale": {"domain": [-22, 238], "nice": false, "zero": false}, "axis": null}}},
   {"transform": [{"filter": "datum.c == 'KD-NT (mAb)'"}], "mark": {"type": "line", "color": "#1e1e1e", "strokeWidth": 2, "interpolate": "monotone"}, "encoding": {"y": {"field": "h", "type": "quantitative", "scale": {"domain": [-1, 259], "nice": false, "zero": false}, "axis": null}}}
  ],
  "resolve": {"scale": {"y": "independent"}}
 },
 {"width": 260, "height": 260,
  "view": {"stroke": "#333", "strokeWidth": 1.3},
  "title": {"text": "β1", "fontSize": 20, "fontWeight": "normal", "offset": 9},
  "data": {"name": "hist"},
  "transform": [{"filter": "datum.p == 'iso' || datum.p == 'b1'"}],
  "encoding": {"x": {"field": "v", "type": "quantitative", "scale": {"type": "log", "domain": [1, 10000], "nice": false}, "axis": {"title": null, "values": [1,2,3,4,5,6,7,8,9,10,20,30,40,50,60,70,80,90,100,200,300,400,500,600,700,800,900,1000,2000,3000,4000,5000,6000,7000,8000,9000,10000], "labelExpr": "datum.value == 1 ? '10⁰' : datum.value == 10 ? '10¹' : datum.value == 100 ? '10²' : datum.value == 1000 ? '10³' : datum.value == 10000 ? '10⁴' : ''", "labelFontSize": 16, "labelPadding": 19, "labelFlush": false, "labelOverlap": false, "labelBound": false, "domain": false, "tickColor": "#333", "tickWidth": 1, "tickSize": {"condition": {"test": "indexof([1,10,100,1000,10000], datum.value) >= 0", "value": -6}, "value": -3}}}},
  "layer": [
   {"transform": [{"filter": "datum.c == 'VC-NT (ISO)'"}], "mark": {"type": "line", "color": "#1e1e1e", "strokeWidth": 2, "interpolate": "monotone"}, "encoding": {"y": {"field": "h", "type": "quantitative", "scale": {"domain": [-150, 110], "nice": false, "zero": false}, "axis": null}}},
   {"transform": [{"filter": "datum.c == 'VC+D (ISO)'"}], "mark": {"type": "line", "color": "#1e1e1e", "strokeWidth": 2, "interpolate": "monotone"}, "encoding": {"y": {"field": "h", "type": "quantitative", "scale": {"domain": [-129, 131], "nice": false, "zero": false}, "axis": null}}},
   {"transform": [{"filter": "datum.c == 'KD-NT (ISO)'"}], "mark": {"type": "line", "color": "#1e1e1e", "strokeWidth": 2, "interpolate": "monotone"}, "encoding": {"y": {"field": "h", "type": "quantitative", "scale": {"domain": [-108, 152], "nice": false, "zero": false}, "axis": null}}},
   {"transform": [{"filter": "datum.c == 'KD+D (ISO)'"}], "mark": {"type": "line", "color": "#1e1e1e", "strokeWidth": 2, "interpolate": "monotone"}, "encoding": {"y": {"field": "h", "type": "quantitative", "scale": {"domain": [-86, 174], "nice": false, "zero": false}, "axis": null}}},
   {"transform": [{"filter": "datum.c == 'VC-NT (mAb)'"}], "mark": {"type": "line", "color": "#1e1e1e", "strokeWidth": 2, "interpolate": "monotone"}, "encoding": {"y": {"field": "h", "type": "quantitative", "scale": {"domain": [-65, 195], "nice": false, "zero": false}, "axis": null}}},
   {"transform": [{"filter": "datum.c == 'VC+D (mAb)'"}], "mark": {"type": "line", "color": "#1e1e1e", "strokeWidth": 2, "interpolate": "monotone"}, "encoding": {"y": {"field": "h", "type": "quantitative", "scale": {"domain": [-44, 216], "nice": false, "zero": false}, "axis": null}}},
   {"transform": [{"filter": "datum.c == 'KD+D (mAb)'"}], "mark": {"type": "line", "color": "#1e1e1e", "strokeWidth": 2, "interpolate": "monotone"}, "encoding": {"y": {"field": "h", "type": "quantitative", "scale": {"domain": [-22, 238], "nice": false, "zero": false}, "axis": null}}},
   {"transform": [{"filter": "datum.c == 'KD-NT (mAb)'"}], "mark": {"type": "line", "color": "#1e1e1e", "strokeWidth": 2, "interpolate": "monotone"}, "encoding": {"y": {"field": "h", "type": "quantitative", "scale": {"domain": [-1, 259], "nice": false, "zero": false}, "axis": null}}}
  ],
  "resolve": {"scale": {"y": "independent"}}
 }
], "spacing": 41, "bounds": "flush"},
{"hconcat": [
 {"width": 50, "height": 145,
  "data": {"values": [{"t": "C"}]},
  "mark": {"type": "text", "align": "left", "baseline": "middle", "fontSize": 26, "fontWeight": "bold", "color": "#222"},
  "encoding": {"x": {"datum": 0, "type": "quantitative", "scale": {"domain": [0, 50], "nice": false, "zero": false}, "axis": null}, "y": {"datum": 169, "type": "quantitative", "scale": {"domain": [0, 145], "nice": false, "zero": false}, "axis": null}, "text": {"field": "t"}}
 },
 {"width": 216, "height": 145,
  "data": {"name": "cdat"},
  "encoding": {
   "x": {"field": "cond", "type": "ordinal", "sort": ["2'","VCAM-1","VCAM-1 + Mn++"], "scale": {"paddingInner": 0.347, "paddingOuter": 0.174}, "axis": {"title": null, "labelAngle": -45, "labelFontSize": 16, "labelFontWeight": "bold", "tickSize": 5, "tickWidth": 1.5, "domainWidth": 2, "labelPadding": 2}},
   "xOffset": {"field": "g", "type": "nominal", "sort": ["MeOH","Sorafenib"], "scale": {"domain": ["MeOH","Sorafenib"], "paddingInner": 0.26}},
   "y": {"field": "val", "type": "quantitative", "scale": {"domain": [0, 150], "nice": false}, "axis": {"title": "MFI", "values": [0,50,100,150], "labelFontSize": 11, "labelFontWeight": "bold", "titleFontSize": 17, "titleFontWeight": "bold", "tickSize": 4, "tickWidth": 1.5, "domainWidth": 2, "labelPadding": 2, "titlePadding": 7}}
  },
  "layer": [
   {"transform": [{"filter": {"field": "g", "oneOf": ["MeOH","Sorafenib"]}}], "mark": {"type": "bar", "stroke": "#111", "strokeWidth": 1.5}, "encoding": {"fill": {"field": "g", "type": "nominal", "scale": {"domain": ["MeOH","Sorafenib"], "range": ["#1a1a1a","#c4c4c4"]}, "legend": null}}},
   {"mark": {"type": "rule", "color": "#111", "strokeWidth": 1.5}, "encoding": {"y2": {"field": "hi"}}},
   {"mark": {"type": "tick", "color": "#111", "thickness": 1.5, "size": 10}, "encoding": {"y": {"field": "hi", "type": "quantitative"}}}
  ]
 },
 {"width": 138, "height": 40,
  "data": {"name": "legC"},
  "encoding": {"y": {"field": "g", "type": "nominal", "sort": null, "scale": {"domain": ["MeOH","Sorafenib"], "paddingInner": 0.3, "paddingOuter": 0.26}, "axis": null}},
  "layer": [
   {"mark": {"type": "bar", "stroke": "#111", "strokeWidth": 1.5}, "encoding": {"x": {"datum": 0, "type": "quantitative", "scale": {"domain": [0, 138], "nice": false, "zero": false}, "axis": null}, "x2": {"datum": 19}, "fill": {"field": "g", "type": "nominal", "scale": {"domain": ["MeOH","Sorafenib"], "range": ["#1a1a1a","#c4c4c4"]}, "legend": null}}},
   {"mark": {"type": "text", "align": "left", "baseline": "middle", "fontSize": 17, "color": "#222"}, "encoding": {"x": {"datum": 23, "type": "quantitative", "scale": {"domain": [0, 138], "nice": false, "zero": false}, "axis": null}, "text": {"field": "g"}}}
  ]
 },
 {"width": 217, "height": 145,
  "title": {"text": "D", "anchor": "start", "frame": "group", "dx": -39, "fontSize": 26, "fontWeight": "bold", "offset": 8},
  "data": {"name": "ddat"},
  "encoding": {
   "x": {"field": "cond", "type": "ordinal", "sort": ["2'","VCAM-1","VCAM-1 + Mn++"], "scale": {"paddingInner": 0.166, "paddingOuter": 0.083}, "axis": {"title": null, "labelAngle": -45, "labelFontSize": 16, "labelFontWeight": "bold", "tickSize": 5, "tickWidth": 1.5, "domainWidth": 2, "labelPadding": 2}},
   "xOffset": {"field": "g", "type": "nominal", "sort": ["VC - NT","VC + D","KD - NT","KD + D"], "scale": {"domain": ["VC - NT","VC + D","KD - NT","KD + D"], "paddingInner": 0.18}},
   "y": {"field": "val", "type": "quantitative", "scale": {"domain": [0, 50], "nice": false}, "axis": {"title": "MFI", "values": [0,10,20,30,40,50], "labelFontSize": 11, "labelFontWeight": "bold", "titleFontSize": 17, "titleFontWeight": "bold", "tickSize": 4, "tickWidth": 1.5, "domainWidth": 2, "labelPadding": 2, "titlePadding": 15}}
  },
  "layer": [
   {"transform": [{"filter": {"field": "g", "oneOf": ["VC - NT","VC + D","KD - NT"]}}], "mark": {"type": "bar", "stroke": "#111", "strokeWidth": 1.5}, "encoding": {"fill": {"field": "g", "type": "nominal", "scale": {"domain": ["VC - NT","VC + D","KD - NT"], "range": ["#1a1a1a","#ffffff","#d0d0d0"]}, "legend": null}}},
   {"transform": [{"filter": "datum.g == 'KD + D'"}], "mark": {"type": "bar", "stroke": "#111", "strokeWidth": 1.5, "fill": {"gradient": "linear", "x1": 0, "y1": 1, "x2": 0.1, "y2": 0, "stops": [{"offset":0,"color":"#111"},{"offset":0.045,"color":"#111"},{"offset":0.045,"color":"#fff"},{"offset":0.1,"color":"#fff"},{"offset":0.1,"color":"#111"},{"offset":0.145,"color":"#111"},{"offset":0.145,"color":"#fff"},{"offset":0.2,"color":"#fff"},{"offset":0.2,"color":"#111"},{"offset":0.245,"color":"#111"},{"offset":0.245,"color":"#fff"},{"offset":0.3,"color":"#fff"},{"offset":0.3,"color":"#111"},{"offset":0.345,"color":"#111"},{"offset":0.345,"color":"#fff"},{"offset":0.4,"color":"#fff"},{"offset":0.4,"color":"#111"},{"offset":0.445,"color":"#111"},{"offset":0.445,"color":"#fff"},{"offset":0.5,"color":"#fff"},{"offset":0.5,"color":"#111"},{"offset":0.545,"color":"#111"},{"offset":0.545,"color":"#fff"},{"offset":0.6,"color":"#fff"},{"offset":0.6,"color":"#111"},{"offset":0.645,"color":"#111"},{"offset":0.645,"color":"#fff"},{"offset":0.7,"color":"#fff"},{"offset":0.7,"color":"#111"},{"offset":0.745,"color":"#111"},{"offset":0.745,"color":"#fff"},{"offset":0.8,"color":"#fff"},{"offset":0.8,"color":"#111"},{"offset":0.845,"color":"#111"},{"offset":0.845,"color":"#fff"},{"offset":0.9,"color":"#fff"},{"offset":0.9,"color":"#111"},{"offset":0.945,"color":"#111"},{"offset":0.945,"color":"#fff"},{"offset":1,"color":"#fff"}]}}},
   {"mark": {"type": "rule", "color": "#111", "strokeWidth": 1.5}, "encoding": {"y2": {"field": "hi"}}},
   {"mark": {"type": "tick", "color": "#111", "thickness": 1.5, "size": 7}, "encoding": {"y": {"field": "hi", "type": "quantitative"}}}
  ]
 },
 {"width": 95, "height": 82,
  "data": {"name": "legD"},
  "encoding": {"y": {"field": "g", "type": "nominal", "sort": null, "scale": {"domain": ["VC - NT","VC + D","KD - NT","KD + D"], "paddingInner": 0.3, "paddingOuter": 0.43}, "axis": null}},
  "layer": [
   {"transform": [{"filter": {"field": "g", "oneOf": ["VC - NT","VC + D","KD - NT"]}}], "mark": {"type": "bar", "stroke": "#111", "strokeWidth": 1.5}, "encoding": {"x": {"datum": 0, "type": "quantitative", "scale": {"domain": [-9, 86], "nice": false, "zero": false}, "axis": null}, "x2": {"datum": 18}, "fill": {"field": "g", "type": "nominal", "scale": {"domain": ["VC - NT","VC + D","KD - NT"], "range": ["#1a1a1a","#ffffff","#d0d0d0"]}, "legend": null}}},
   {"transform": [{"filter": "datum.g == 'KD + D'"}], "mark": {"type": "bar", "stroke": "#111", "strokeWidth": 1.5, "fill": {"gradient": "linear", "x1": 0, "y1": 1, "x2": 1.15, "y2": 0.23, "stops": [{"offset":0,"color":"#111"},{"offset":0.1125,"color":"#111"},{"offset":0.1125,"color":"#fff"},{"offset":0.25,"color":"#fff"},{"offset":0.25,"color":"#111"},{"offset":0.3625,"color":"#111"},{"offset":0.3625,"color":"#fff"},{"offset":0.5,"color":"#fff"},{"offset":0.5,"color":"#111"},{"offset":0.6125,"color":"#111"},{"offset":0.6125,"color":"#fff"},{"offset":0.75,"color":"#fff"},{"offset":0.75,"color":"#111"},{"offset":0.8625,"color":"#111"},{"offset":0.8625,"color":"#fff"},{"offset":1,"color":"#fff"}]}}, "encoding": {"x": {"datum": 0, "type": "quantitative", "scale": {"domain": [-9, 86], "nice": false, "zero": false}, "axis": null}, "x2": {"datum": 18}}},
   {"mark": {"type": "text", "align": "left", "baseline": "middle", "fontSize": 17, "color": "#222"}, "encoding": {"x": {"datum": 25, "type": "quantitative", "scale": {"domain": [-9, 86], "nice": false, "zero": false}, "axis": null}, "text": {"field": "g"}}}
  ]
 }
], "spacing": 5, "bounds": "flush", "resolve": {"scale": {"fill": "independent", "xOffset": "independent"}}}
]
}
